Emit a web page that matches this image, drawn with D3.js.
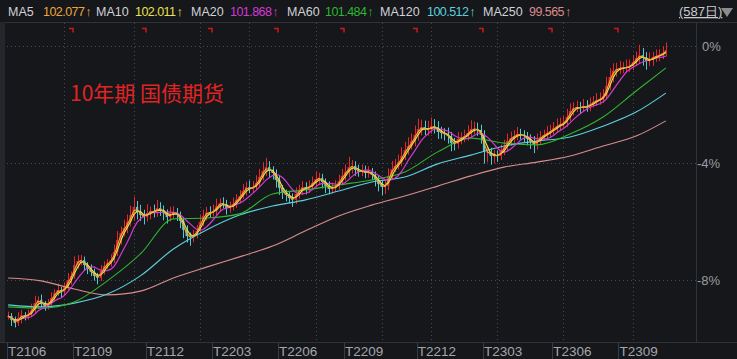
<!DOCTYPE html>
<html>
<head>
<meta charset="utf-8">
<script src="https://cdn.jsdelivr.net/npm/d3@7"></script>
<style>
  html, body { margin: 0; padding: 0; background: #16171b; }
  svg { display: block; }
</style>
</head>
<body>
<div id="chart"></div>
<script>
// closes, % from reference price (one bar ~ 3 trading days)
const closes = [
  -9.23,-9.37,-9.47,-9.30,-9.20,-9.26,-9.16,-9.03,-8.79,-8.68,
  -8.82,-8.89,-8.79,-8.62,-8.44,-8.34,-8.41,-8.24,-8.00,-7.86,
  -7.49,-7.35,-7.32,-7.49,-7.62,-7.73,-7.86,-7.93,-7.69,-7.52,
  -7.42,-7.32,-7.04,-6.63,-6.39,-6.22,-6.02,-5.78,-5.50,-5.68,
  -5.78,-5.85,-5.71,-5.64,-5.68,-5.54,-5.61,-5.71,-5.85,-5.74,
  -5.68,-5.78,-5.98,-6.29,-6.50,-6.53,-6.46,-6.32,-6.02,-5.81,
  -5.68,-5.71,-5.64,-5.47,-5.37,-5.40,-5.54,-5.50,-5.40,-5.26,
  -5.13,-4.96,-4.82,-4.89,-4.82,-4.68,-4.48,-4.27,-4.14,-4.27,
  -4.34,-4.58,-4.85,-5.03,-5.09,-5.20,-5.26,-5.06,-4.92,-4.82,
  -4.89,-4.79,-4.68,-4.55,-4.51,-4.65,-4.79,-4.89,-4.85,-4.79,
  -4.62,-4.44,-4.31,-4.14,-4.10,-4.24,-4.31,-4.27,-4.34,-4.31,
  -4.41,-4.58,-4.72,-4.82,-4.79,-4.44,-4.21,-4.10,-3.97,-3.76,
  -3.56,-3.42,-3.25,-3.04,-2.84,-2.77,-2.87,-2.84,-2.74,-2.77,
  -2.94,-2.97,-3.01,-3.08,-3.32,-3.35,-3.18,-3.15,-3.08,-2.97,
  -2.84,-2.84,-2.87,-3.04,-3.62,-3.62,-3.76,-3.73,-3.76,-3.59,
  -3.45,-3.25,-3.15,-3.08,-3.01,-3.04,-3.08,-3.18,-3.28,-3.38,
  -3.21,-3.11,-3.04,-2.97,-2.91,-2.80,-2.74,-2.67,-2.63,-2.43,
  -2.22,-2.12,-2.09,-2.12,-2.05,-2.09,-1.98,-1.91,-1.85,-1.81,
  -1.71,-1.37,-1.06,-0.85,-0.79,-0.75,-0.75,-0.72,-0.68,-0.55,
  -0.41,-0.31,-0.41,-0.51,-0.48,-0.38,-0.34,-0.31,-0.24,-0.14
];
// upper / lower shadow beyond the body, in %
const hiExt = [
  .15,.10,.12,.20,.18,.10,.15,.22,.25,.12, .18,.10,.14,.20,.12,.22,.10,.16,.24,.15,
  .30,.20,.18,.12,.10,.15,.12,.10,.20,.16, .14,.20,.25,.30,.22,.28,.26,.32,.35,.20,
  .25,.18,.30,.15,.22,.28,.20,.16,.12,.24, .20,.14,.12,.10,.16,.12,.18,.20,.26,.22,
  .18,.20,.22,.25,.16,.20,.14,.18,.22,.20, .20,.24,.18,.22,.20,.26,.28,.30,.32,.20,
  .16,.12,.14,.10,.12,.14,.16,.22,.18,.20, .16,.20,.22,.26,.18,.14,.12,.16,.18,.20,
  .22,.24,.26,.35,.20,.16,.18,.22,.18,.20, .14,.12,.16,.14,.18,.26,.28,.24,.26,.30,
  .28,.30,.26,.32,.35,.25,.22,.28,.30,.24, .20,.18,.16,.22,.14,.18,.24,.20,.22,.26,
  .30,.26,.22,.18,.16,.20,.14,.18,.16,.22, .24,.26,.22,.20,.24,.18,.16,.14,.16,.20,
  .22,.20,.18,.24,.22,.20,.26,.22,.24,.28, .26,.20,.22,.18,.24,.20,.22,.20,.24,.22,
  .24,.32,.30,.26,.22,.24,.20,.26,.22,.24, .22,.35,.24,.20,.26,.18,.22,.20,.24,.26
];
const loExt = [
  .12,.20,.15,.10,.18,.12,.10,.08,.12,.20, .10,.16,.12,.08,.14,.10,.18,.12,.10,.16,
  .10,.12,.15,.20,.18,.14,.16,.22,.10,.12, .10,.12,.10,.14,.16,.12,.18,.15,.20,.25,
  .20,.25,.15,.22,.18,.16,.20,.25,.22,.15, .15,.20,.25,.28,.22,.30,.18,.12,.10,.14,
  .16,.14,.12,.18,.20,.15,.22,.16,.12,.14, .12,.10,.16,.14,.12,.10,.14,.12,.18,.22,
  .22,.26,.24,.20,.22,.18,.24,.14,.16,.18, .18,.14,.12,.16,.20,.22,.24,.18,.16,.14,
  .12,.14,.16,.18,.22,.20,.16,.14,.18,.16, .18,.22,.25,.28,.24,.14,.12,.10,.12,.14,
  .14,.16,.12,.18,.20,.22,.18,.20,.16,.22, .24,.20,.22,.26,.28,.22,.16,.18,.14,.16,
  .16,.18,.20,.30,.40,.35,.30,.25,.20,.14, .14,.12,.16,.18,.14,.16,.20,.22,.24,.28,
  .16,.14,.12,.14,.16,.12,.14,.16,.12,.14, .14,.16,.14,.18,.12,.16,.14,.12,.14,.16,
  .14,.12,.14,.18,.20,.16,.18,.14,.16,.14, .14,.20,.26,.30,.18,.20,.16,.18,.14,.12
];

// long moving averages, read every 10 bars (last point = last bar)
const maIdx = [0,10,20,30,40,50,60,70,80,90,100,110,120,130,140,150,160,170,180,190,199];
const ma60 = [-8.92,-8.96,-8.75,-8.03,-7.11,-5.91,-5.88,-5.74,-5.06,-4.92,-4.75,-4.58,-4.31,-3.62,-3.15,-3.32,-3.38,-3.01,-2.43,-1.54,-0.75];
const ma120 = [-8.85,-8.92,-8.79,-8.48,-7.86,-6.94,-6.29,-5.78,-5.47,-5.26,-4.96,-4.65,-4.48,-4.03,-3.73,-3.42,-3.25,-3.11,-2.74,-2.26,-1.61];
const ma250 = [-7.93,-8.03,-8.31,-8.51,-8.38,-7.93,-7.56,-7.21,-6.84,-6.32,-5.81,-5.44,-5.13,-4.79,-4.44,-4.14,-3.97,-3.76,-3.42,-3.08,-2.56];

const legendNames = ["MA5", "MA10", "MA20", "MA60", "MA120", "MA250"];
const legendValues = ["102.077", "102.011", "101.868", "101.484", "100.512", "99.565"];
const legendColors = ["#eda53c", "#e8e24c", "#d43ad4", "#2fb52f", "#5cd0dc", "#d98c8c"];

const contracts = ["T2106", "T2109", "T2112", "T2203", "T2206", "T2209", "T2212", "T2303", "T2306", "T2309"];
const contractStart = [0, 20, 42, 62, 82, 102, 124, 144, 165, 185];
const gridBars = [17, 38, 58, 73, 93, 113, 128, 148, 168, 189];
const yTicks = [0, -4, -8];

const W = 737, H = 359;
// legend layout: x of each name and of each value
const legendNameX = [8, 96, 191, 287, 380, 483];
const legendValX = [43, 135, 230, 325, 427, 529];

const svg = d3.select("#chart").append("svg").attr("width", W).attr("height", H)
  .style("font-family", "'Liberation Sans', 'Noto Sans', sans-serif");

svg.append("rect").attr("width", W).attr("height", H).attr("fill", "#16171b");

const x = d3.scaleBand().domain(d3.range(closes.length)).range([7, 667]).paddingInner(0.3);
const cx = i => x(i) + x.bandwidth() / 2;
const y = d3.scaleLinear().domain([-8, 0]).range([280, 46]);

// frame
svg.append("line").attr("x1", 0).attr("x2", W).attr("y1", 22.5).attr("y2", 22.5).attr("stroke", "#303236");
svg.append("line").attr("x1", 0).attr("x2", W).attr("y1", 342.5).attr("y2", 342.5).attr("stroke", "#303236");
svg.append("line").attr("x1", 696.5).attr("x2", 696.5).attr("y1", 22).attr("y2", 342).attr("stroke", "#303236");
svg.append("rect").attr("x", 0).attr("y", 22).attr("width", 5).attr("height", 320).attr("fill", "#25262b");

// grid
svg.append("g").selectAll("line").data(yTicks).join("line")
  .attr("x1", 7).attr("x2", 696).attr("y1", d => Math.round(y(d)) + 0.5).attr("y2", d => Math.round(y(d)) + 0.5)
  .attr("stroke", "#474950").attr("stroke-dasharray", "1,3");
svg.append("g").selectAll("line").data(gridBars).join("line")
  .attr("x1", d => Math.round(cx(d)) + 0.5).attr("x2", d => Math.round(cx(d)) + 0.5)
  .attr("y1", 23).attr("y2", 342)
  .attr("stroke", "#474950").attr("stroke-dasharray", "1,3");

// right axis
svg.append("g").selectAll("text").data(yTicks).join("text")
  .attr("x", d => d === 0 ? 702 : 697).attr("y", d => y(d) + 5)
  .attr("fill", "#9a9ca2").attr("font-size", 13)
  .text(d => d + "%");

// contract axis
const cg = svg.append("g");
cg.selectAll("line").data(contractStart).join("line")
  .attr("x1", d => Math.round(x(d)) + 0.5).attr("x2", d => Math.round(x(d)) + 0.5)
  .attr("y1", 343).attr("y2", H).attr("stroke", "#3a3c42");
cg.selectAll("text").data(contracts).join("text")
  .attr("x", (d, i) => x(contractStart[i]) + 1).attr("y", 356)
  .attr("fill", "#a4a6ac").attr("font-size", 13.5)
  .text(d => d);

// red roll markers
svg.append("g").selectAll("path").data(contractStart.slice(1)).join("path")
  .attr("d", d => { const px = Math.round(x(d)) - 4; return `M${px},28.5h4v4`; })
  .attr("fill", "none").attr("stroke", "#d01818").attr("stroke-width", 1.5);

// candles
const bars = closes.map((c, i) => {
  const o = i === 0 ? c : closes[i - 1];
  return { i, o, c, h: Math.max(o, c) + hiExt[i], l: Math.min(o, c) - loExt[i] };
});
const up = d => d.c >= d.o;
const cGroup = svg.append("g");
cGroup.selectAll("line").data(bars).join("line")
  .attr("x1", d => Math.round(cx(d.i)) + 0.5).attr("x2", d => Math.round(cx(d.i)) + 0.5)
  .attr("y1", d => y(d.h)).attr("y2", d => y(d.l))
  .attr("stroke", d => up(d) ? "#e8262a" : "#55c9d0").attr("stroke-width", 1);
cGroup.selectAll("rect").data(bars).join("rect")
  .attr("x", d => x(d.i))
  .attr("width", x.bandwidth())
  .attr("y", d => y(Math.max(d.o, d.c)))
  .attr("height", d => Math.max(1, Math.abs(y(d.o) - y(d.c))))
  .attr("fill", d => up(d) ? "#e8262a" : "#55c9d0");

// moving averages
function movAvg(n) {
  return closes.map((c, i) => d3.mean(closes.slice(Math.max(0, i - n + 1), i + 1)));
}
const line = d3.line().x((d, i) => cx(i)).y(d => y(d));
const lineSparse = d3.line().x(d => cx(d[0])).y(d => y(d[1])).curve(d3.curveMonotoneX);

[[ma250, legendColors[5]], [ma120, legendColors[4]], [ma60, legendColors[3]]].forEach(([arr, col]) => {
  svg.append("path").datum(arr.map((v, k) => [maIdx[k], v]))
    .attr("fill", "none").attr("stroke", col).attr("stroke-width", 1.1).attr("d", lineSparse);
});
[[7, legendColors[2]], [3, legendColors[1]], [2, legendColors[0]]].forEach(([n, col]) => {
  svg.append("path").datum(movAvg(n))
    .attr("fill", "none").attr("stroke", col).attr("stroke-width", 1.2).attr("d", line);
});

// legend
const lg = svg.append("g").attr("font-size", 12.5);
legendNames.forEach((name, k) => {
  lg.append("text").attr("x", legendNameX[k]).attr("y", 16).attr("fill", "#d0d2d6").text(name);
  const v = lg.append("text").attr("x", legendValX[k]).attr("y", 16).attr("fill", legendColors[k])
    .attr("letter-spacing", -0.55).text(legendValues[k]);
  const vw = v.node().getComputedTextLength();
  lg.append("text").attr("x", legendValX[k] + vw + 1).attr("y", 16).attr("fill", legendColors[k])
    .attr("font-size", 13).text("↑");
});
svg.append("text").attr("x", 679).attr("y", 16).attr("font-size", 13)
  .attr("fill", "#c8cace").attr("text-decoration", "underline").text("(587日)");
svg.append("path").attr("d", "M721,8h12l-6,9z").attr("fill", "#8a8c90");

// title
svg.append("text").attr("x", 70).attr("y", 101)
  .attr("font-family", "'Noto Sans CJK SC', sans-serif").attr("font-size", 21)
  .attr("fill", "#e02424").text("10年期 国债期货");
</script>
</body>
</html>
